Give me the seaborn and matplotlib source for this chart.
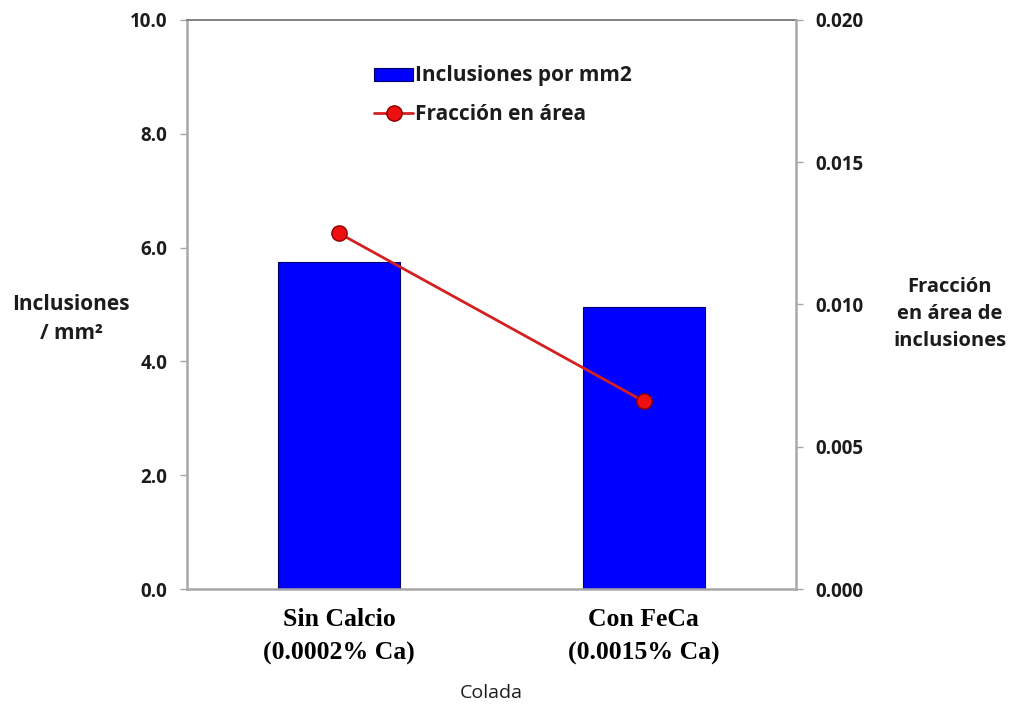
import matplotlib
matplotlib.use("Agg")
import matplotlib.pyplot as plt
import seaborn as sns
from matplotlib.patches import Patch
from matplotlib.lines import Line2D

# Data
coladas = ["Sin Calcio\n(0.0002% Ca)", "Con FeCa\n(0.0015% Ca)"]
inclusiones_mm2 = [5.75, 4.95]
fraccion_area = [0.0125, 0.0066]
left_ticks = [0.0, 2.0, 4.0, 6.0, 8.0, 10.0]
right_ticks = [0.000, 0.005, 0.010, 0.015, 0.020]

sns.set_theme(style="white")
plt.rcParams["font.family"] = ["Open Sans", "DejaVu Sans"]

fig = plt.figure(figsize=(10.12, 7.06), dpi=100)
ax = fig.add_axes([0.1848, 0.1657, 0.6017, 0.806])

bar_color = "#0000ff"
line_color = "#d42020"
axis_gray = "#a8a8a8"
text_color = "#1c1c1c"

sns.barplot(x=coladas, y=inclusiones_mm2, color=bar_color, width=0.40,
            edgecolor="#00006a", linewidth=0.8, saturation=1, ax=ax)

ax2 = ax.twinx()
sns.pointplot(x=coladas, y=fraccion_area, color=line_color, ax=ax2,
              markers="o", linestyles="-", linewidth=2.0,
              markersize=11, markerfacecolor="#ee1010",
              markeredgecolor="#8a0000", markeredgewidth=1.0)

ax.set_xlim(-0.5, 1.5)
ax.set_ylim(0, 10)
ax2.set_ylim(0, 0.02)
ax.set_yticks(left_ticks)
ax.set_yticklabels([f"{v:.1f}" for v in left_ticks])
ax2.set_yticks(right_ticks)
ax2.set_yticklabels([f"{v:.3f}" for v in right_ticks])

for a in (ax, ax2):
    for side in ("left", "right", "top", "bottom"):
        a.spines[side].set_visible(False)
ax.spines["left"].set_visible(True)
ax.spines["bottom"].set_visible(True)
ax.spines["top"].set_visible(True)
ax2.spines["right"].set_visible(True)
for sp in (ax.spines["left"], ax.spines["bottom"], ax2.spines["right"]):
    sp.set_color(axis_gray)
    sp.set_linewidth(1.8)
ax.spines["top"].set_color("#7a7a7a")
ax.spines["top"].set_linewidth(1.3)

ax.tick_params(axis="y", direction="out", length=5, width=1, color=axis_gray,
               labelsize=13.5, labelcolor=text_color, pad=9, left=True)
ax2.tick_params(axis="y", direction="out", length=5, width=1, color=axis_gray,
                labelsize=13.5, labelcolor=text_color, pad=9, right=True)
for lbl in ax.get_yticklabels() + ax2.get_yticklabels():
    lbl.set_fontweight("bold")

ax.tick_params(axis="x", length=0, pad=14)
ax.set_xticks(range(len(coladas)))
ax.set_xticklabels(coladas, fontfamily="Liberation Serif", fontweight="bold",
                   fontsize=18.5, color="black", linespacing=1.55)

ax.set_xlabel("Colada", fontsize=14, color=text_color, labelpad=14)
ax.set_ylabel("Inclusiones\n/ mm²", fontsize=15, fontweight="bold",
              color=text_color, rotation=0, ha="center", va="center",
              linespacing=1.5)
ax.yaxis.set_label_coords(-0.19, 0.475)
ax2.set_ylabel("Fracción\nen área de\ninclusiones", fontsize=14.5,
               fontweight="bold", color=text_color, rotation=0,
               ha="center", va="center", linespacing=1.45)
ax2.yaxis.set_label_coords(1.253, 0.483)

handles = [
    Patch(facecolor=bar_color, edgecolor="#00006a", linewidth=0.8),
    Line2D([0], [0], color=line_color, linewidth=2.0, marker="o",
           markersize=11, markerfacecolor="#ee1010",
           markeredgecolor="#8a0000", markeredgewidth=1.0),
]
leg = ax.legend(handles, ["Inclusiones por mm2", "Fracción en área"],
                loc="upper left", bbox_to_anchor=(0.277, 0.953), frameon=False,
                handlelength=1.85, handleheight=0.6, handletextpad=0.1,
                labelspacing=0.85, prop={"size": 15, "weight": "bold"})
for t in leg.get_texts():
    t.set_color(text_color)

fig.savefig("out.png", dpi=100, facecolor="white")
